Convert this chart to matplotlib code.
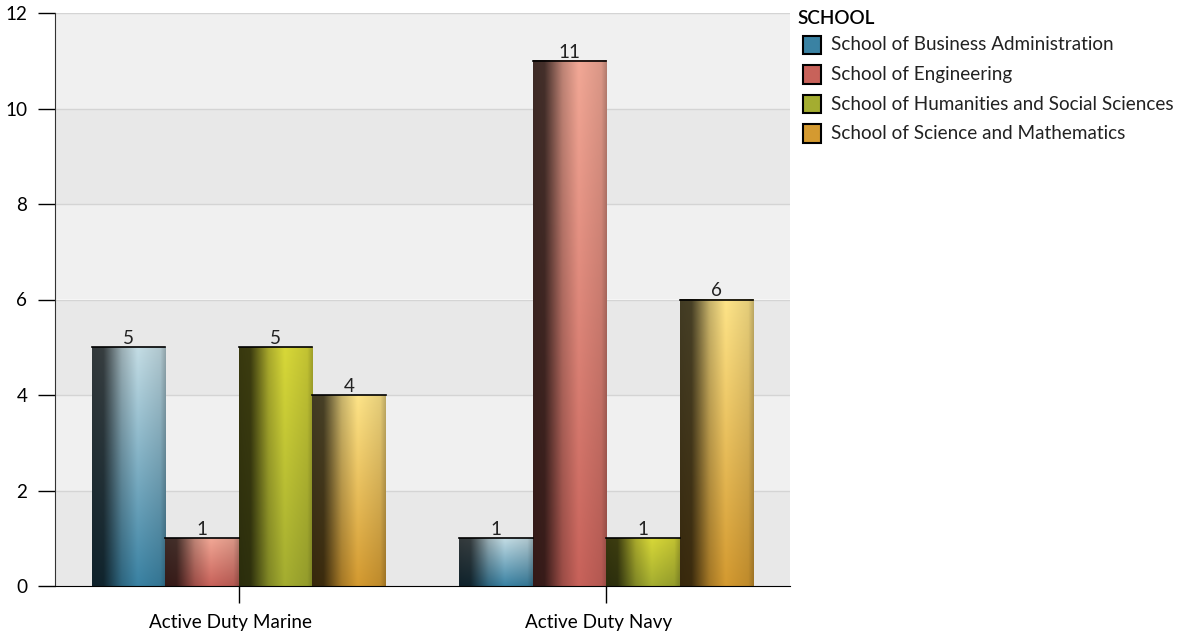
import numpy as np
import matplotlib
matplotlib.use('Agg')
import matplotlib.pyplot as plt
from matplotlib.patches import Rectangle
from matplotlib.colors import to_rgb
from matplotlib.transforms import ScaledTranslation

plt.rcParams['font.family'] = ['Lato', 'DejaVu Sans']

categories = ['Active Duty Marine', 'Active Duty Navy']
schools = ['School of Business Administration', 'School of Engineering',
           'School of Humanities and Social Sciences', 'School of Science and Mathematics']
values = {
    'School of Business Administration': [5, 1],
    'School of Engineering': [1, 11],
    'School of Humanities and Social Sciences': [5, 1],
    'School of Science and Mathematics': [4, 6],
}
base_colors = ['#3a82a3', '#c8625a', '#a4ad30', '#d49a30']
top_colors = ['#c4dde5', '#f2a896', '#d8d838', '#fee488']

fig = plt.figure(figsize=(11.82, 6.32), dpi=100)
ax = fig.add_axes([55 / 1182, 1 - 586 / 632, 735 / 1182, 573 / 632])

ymax = 12
fs = 13.6
# alternating background bands
for i in range(0, ymax, 2):
    c = '#e8e8e8' if (i // 2) % 2 == 0 else '#f0f0f0'
    ax.axhspan(i, i + 2, color=c, zorder=0, lw=0)
for y in range(2, ymax + 1, 2):
    ax.axhline(y, color='#d4d4d4', lw=1, zorder=0.5)

# horizontal shading profile for the "cylinder" look
xs = np.linspace(0, 1, 60)
shade = np.interp(xs, [0, 0.15, 0.4, 0.62, 0.93, 1.0], [0.26, 0.28, 0.78, 1.0, 0.9, 0.75])

width = 0.2
for k, name in enumerate(schools):
    b = np.array(to_rgb(base_colors[k]))
    t = np.array(to_rgb(top_colors[k]))
    for j, v in enumerate(values[name]):
        x0 = j - 0.4 + k * width
        frac = np.linspace(0, 1, 100)[:, None, None]
        col = b + (t - b) * frac
        img = col * shade[None, :, None]
        ax.imshow(np.clip(img, 0, 1), extent=[x0, x0 + width, 0, v], origin='lower',
                  aspect='auto', zorder=2, interpolation='bilinear')
        ax.plot([x0, x0 + width], [v, v], color='black', lw=1.2, zorder=3)
        ax.text(x0 + width / 2, v, str(v), ha='center', va='bottom', fontsize=fs,
                color='#222222', zorder=4)

ax.set_xlim(-0.5, 1.5)
ax.set_ylim(0, ymax)
ax.set_xticks(range(len(categories)))
ax.set_xticklabels(categories, fontsize=fs)
ax.set_yticks(range(0, ymax + 1, 2))
ax.tick_params(axis='y', labelsize=fs, length=12, width=1, pad=8)
ax.tick_params(axis='x', length=12, width=1, pad=8)
# labels sit slightly left of their ticks in the original
for lbl in ax.get_xticklabels():
    lbl.set_transform(lbl.get_transform() + ScaledTranslation(-0.08, 0, fig.dpi_scale_trans))
for s in ['top', 'right']:
    ax.spines[s].set_visible(False)
ax.spines['left'].set_color('#333333')
ax.spines['bottom'].set_color('black')

# legend
fig.text(797 / 1182, 1 - 19 / 632, 'SCHOOL', fontsize=fs, fontweight='semibold',
         va='center', ha='left')
for k, name in enumerate(schools):
    yc = 45 + k * 29.5
    fig.patches.append(Rectangle((803 / 1182, 1 - (yc + 9) / 632), 18 / 1182, 18 / 632,
                                 transform=fig.transFigure, facecolor=base_colors[k],
                                 edgecolor='black', lw=1.5))
    fig.text(831 / 1182, 1 - yc / 632, name, fontsize=fs, va='center', ha='left',
             color='#222222')

fig.savefig('out.png', dpi=100)
